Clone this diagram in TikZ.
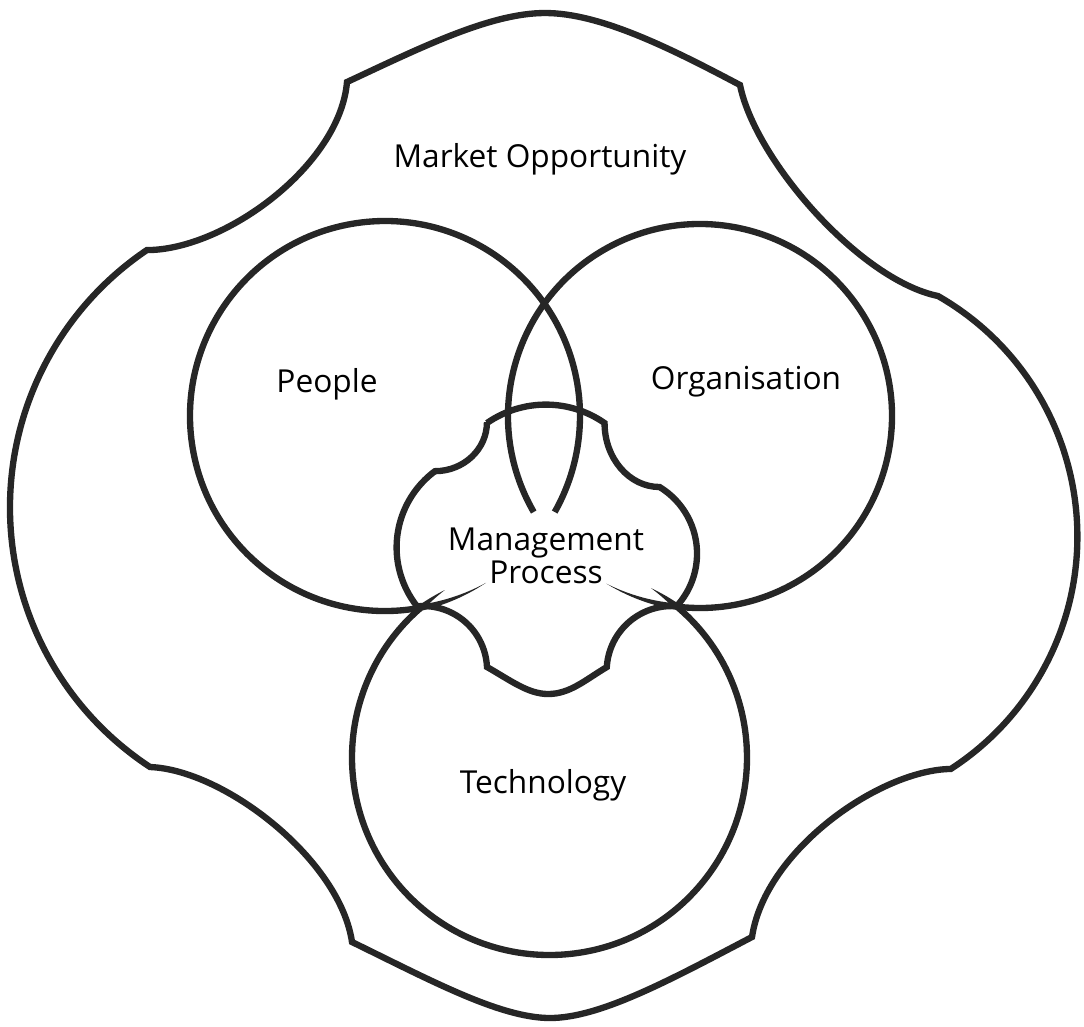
\documentclass[tikz,border=0pt]{standalone}
\usepackage{fontspec}
\setmainfont{Open Sans}
% tapered end of a ring: centre x, centre y, radius, base angle, tip angle
\newcommand\taper[5]{%
  \fill[ink] plot[domain=0:1,samples=14,variable=\t]
    ({#1+(#3+3.2*(1-\t))*cos((#4)+((#5)-(#4))*\t)},{#2+(#3+3.2*(1-\t))*sin((#4)+((#5)-(#4))*\t)})
    -- plot[domain=0:1,samples=14,variable=\t]
    ({#1+(#3-3.2*\t)*cos((#5)+((#4)-(#5))*\t)},{#2+(#3-3.2*\t)*sin((#5)+((#4)-(#5))*\t)}) -- cycle;}
\begin{document}
\begin{tikzpicture}[x=.01cm,y=-.01cm,
  rim/.style={draw=black!85,line width=1.8pt},
  ink/.style={fill=black!85},
  lbl/.style={font=\fontsize{9}{9.4}\selectfont,inner sep=0pt,align=center}]
\useasboundingbox (0,0) rectangle (1084,1026);
% market opportunity
\draw[rim] (347,82) .. controls (420,48) and (490,13) .. (545,13)
  .. controls (600,13) and (670,48) .. (740,85)
  .. controls (755,160) and (860,280) .. (938,296)
  arc[start angle=-60.2,end angle=57.1,radius=277]
  .. controls (880,770) and (765,850) .. (752,937)
  .. controls (670,980) and (600,1018) .. (550,1018)
  .. controls (500,1018) and (430,980) .. (352,942)
  .. controls (340,860) and (225,770) .. (150,767)
  arc[start angle=123.3,end angle=236,radius=310.5]
  .. controls (225,250) and (340,165) .. cycle;
% management process
\draw[rim] (487,423) arc[start angle=-124.8,end angle=-55.2,radius=103]
  arc[start angle=180,end angle=90,x radius=55,y radius=64]
  arc[start angle=-58.7,end angle=42.4,radius=78]
  arc[start angle=-85.6,end angle=-176.5,radius=65]
  .. controls (585,680) and (570,694) .. (548,694)
  .. controls (528,694) and (510,680) .. (487,667)
  arc[start angle=-2.7,end angle=-95.4,radius=64]
  arc[start angle=141.7,end angle=233.4,radius=95]
  arc[start angle=90,end angle=0,x radius=52,y radius=49] -- cycle;
% the three rings
\draw[rim] (385,416) ++(80.2:195) arc[start angle=80.2,end angle=389.5,radius=195];
\draw[rim] (700,416) ++(150:192) arc[start angle=150,end angle=456.9,radius=192];
\draw[rim] (549.5,757.5) ++(-49.9:197.5) arc[start angle=-49.9,end angle=228.7,radius=197.5];
\taper{385}{416}{195}{80.2}{58.8}
\taper{700}{416}{192}{96.9}{119.2}
\taper{549.5}{757.5}{197.5}{-131.3}{-122}
\taper{549.5}{757.5}{197.5}{-49.9}{-59}
\node[lbl,anchor=base] (market) at (540,167) {Market Opportunity};
\node[lbl,anchor=base] (people) at (327,392) {People};
\node[lbl,anchor=base] (organisation) at (746,389) {Organisation};
\node[lbl] (management) at (546,556) {Management\\Process};
\node[lbl,anchor=base] (technology) at (543,793) {Technology};
\end{tikzpicture}
\end{document}
